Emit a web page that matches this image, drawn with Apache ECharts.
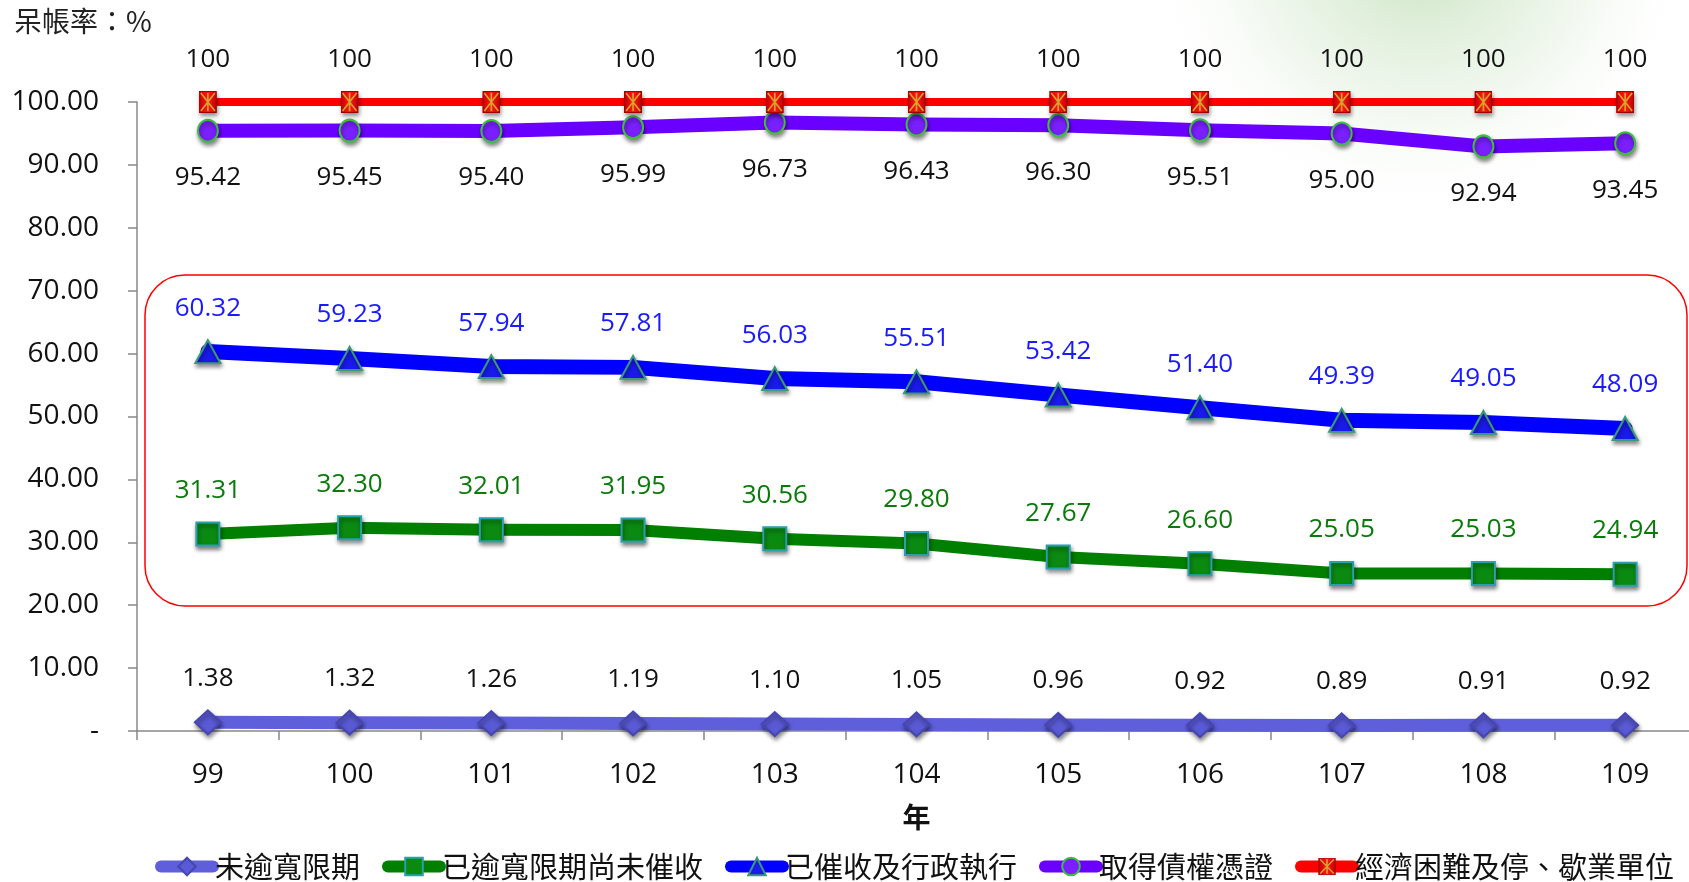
<!DOCTYPE html>
<html>
<head>
<meta charset="utf-8">
<script src="https://cdn.jsdelivr.net/npm/echarts@6/dist/echarts.min.js"></script>
<style>
html,body{margin:0;padding:0;background:#fff;}
#c{width:1689px;height:882px;}
</style>
</head>
<body>
<div id="c"></div>
<script>
var categories = ['99','100','101','102','103','104','105','106','107','108','109'];
var s1 = [1.38,1.32,1.26,1.19,1.10,1.05,0.96,0.92,0.89,0.91,0.92];
var s2 = [31.31,32.30,32.01,31.95,30.56,29.80,27.67,26.60,25.05,25.03,24.94];
var s3 = [60.32,59.23,57.94,57.81,56.03,55.51,53.42,51.40,49.39,49.05,48.09];
var s4 = [95.42,95.45,95.40,95.99,96.73,96.43,96.30,95.51,95.00,92.94,93.45];
var s5 = [100,100,100,100,100,100,100,100,100,100,100];
var names = ['未逾寬限期','已逾寬限期尚未催收','已催收及行政執行','取得債權憑證','經濟困難及停、歇業單位'];

var FONT = '"Noto Sans CJK TC","Noto Sans",sans-serif';
var NUMFONT = '"Open Sans","Noto Sans",sans-serif';
var shadow = {shadowBlur:4, shadowColor:'rgba(0,0,0,0.45)', shadowOffsetY:3, shadowOffsetX:1};

var redSvg = '<svg xmlns="http://www.w3.org/2000/svg" width="18" height="22" viewBox="0 0 18 22">' +
  '<defs><linearGradient id="g" x1="0" y1="0" x2="1" y2="0"><stop offset="0" stop-color="#c40000"/><stop offset="0.5" stop-color="#ff1a1a"/><stop offset="1" stop-color="#c40000"/></linearGradient></defs>' +
  '<rect x="0.5" y="0.5" width="17" height="21" fill="url(#g)" stroke="#a00000" stroke-width="1"/>' +
  '<path d="M2 2 L16 20 M16 2 L2 20 M9 2 L9 20" stroke="#d8a52a" stroke-width="1.6" fill="none"/></svg>';
var redSymbol = 'image://data:image/svg+xml;charset=utf-8,' + encodeURIComponent(redSvg);

function mk(name, data, color, lw, symbol, size, fill, border, labelColor, pos, fmt){
  return {
    name:name, type:'line', data:data,
    symbol:symbol, symbolSize:size,
    lineStyle:{color:color, width:lw, cap:'round', join:'round'},
    itemStyle:Object.assign({color:fill, borderColor:border, borderWidth:2}, shadow),
    label:{show:true, position:pos, distance:(pos === 'top' ? 18 : 22), color:labelColor, fontSize:26, fontFamily:NUMFONT,
      formatter:function(p){ return fmt ? fmt(p.value) : p.value.toFixed(2); }},
    emphasis:{disabled:true},
    animation:false
  };
}

var chart = echarts.init(document.getElementById('c'));
chart.setOption({
  backgroundColor:'#ffffff',
  textStyle:{fontFamily:FONT},
  title:{text:'呆帳率：%', left:9, top:2, textStyle:{fontSize:28, fontWeight:'normal', color:'#222', fontFamily:FONT}},
  graphic:[
    {type:'circle', shape:{cx:1420, cy:-60, r:280}, z:-10, silent:true,
     style:{fill:new echarts.graphic.RadialGradient(0.5,0.5,0.5,[{offset:0,color:'rgba(140,195,120,0.5)'},{offset:0.6,color:'rgba(190,220,180,0.22)'},{offset:1,color:'rgba(255,255,255,0)'}])}},
    {type:'rect', shape:{x:145, y:275, width:1542, height:331, r:40}, z:-1, silent:true,
     style:{fill:'none', stroke:'#ff0000', lineWidth:1.5}}
  ],
  legend:{
    data:names, left:150, right:0, top:847, itemGap:22, itemWidth:52, itemHeight:22,
    lineStyle:{width:12, cap:'round'},
    textStyle:{fontSize:29, color:'#111', fontFamily:FONT, padding:[0,0,0,-3]}
  },
  grid:{left:137, width:1559, top:102, bottom:151, containLabel:false, outerBoundsMode:'none'},
  xAxis:{
    type:'category', data:categories, boundaryGap:true,
    name:'年', nameLocation:'middle', nameGap:72,
    nameTextStyle:{fontSize:28, fontWeight:'bold', color:'#111', fontFamily:FONT},
    axisLine:{lineStyle:{color:'#888', width:1.5}},
    axisTick:{show:true, inside:false, length:9, lineStyle:{color:'#888', width:1.5}},
    axisLabel:{fontSize:28, color:'#111', margin:30, fontFamily:NUMFONT}
  },
  yAxis:{
    type:'value', min:0, max:100, interval:10,
    axisLine:{show:true, lineStyle:{color:'#888', width:1.5}},
    axisTick:{show:true, inside:false, length:9, lineStyle:{color:'#888', width:1.5}},
    splitLine:{show:false},
    axisLabel:{fontSize:28, color:'#111', margin:38, fontFamily:NUMFONT,
      formatter:function(v){ return v === 0 ? '-' : v.toFixed(2); }}
  },
  series:[
    mk(names[0], s1, '#5f5fdc', 13, 'diamond', [26,24], '#5a5ad6', '#4646b0', '#111', 'top'),
    mk(names[1], s2, '#007f00', 12, 'rect', [23,23], '#0b8a12', '#2a9fb0', '#0a7a0a', 'top'),
    mk(names[2], s3, '#0000ff', 15, 'triangle', [25,23], '#1a1aee', '#3a9a78', '#1a1aff', 'top'),
    mk(names[3], s4, '#6a00ff', 14, 'circle', [20,22], '#7a1fff', '#3fbf3f', '#111', 'bottom'),
    mk(names[4], s5, '#ff0000', 8, redSymbol, [18,22], '#ee1111', '#b00000', '#111', 'top', function(v){return String(v);})
  ]
});
</script>
</body>
</html>
